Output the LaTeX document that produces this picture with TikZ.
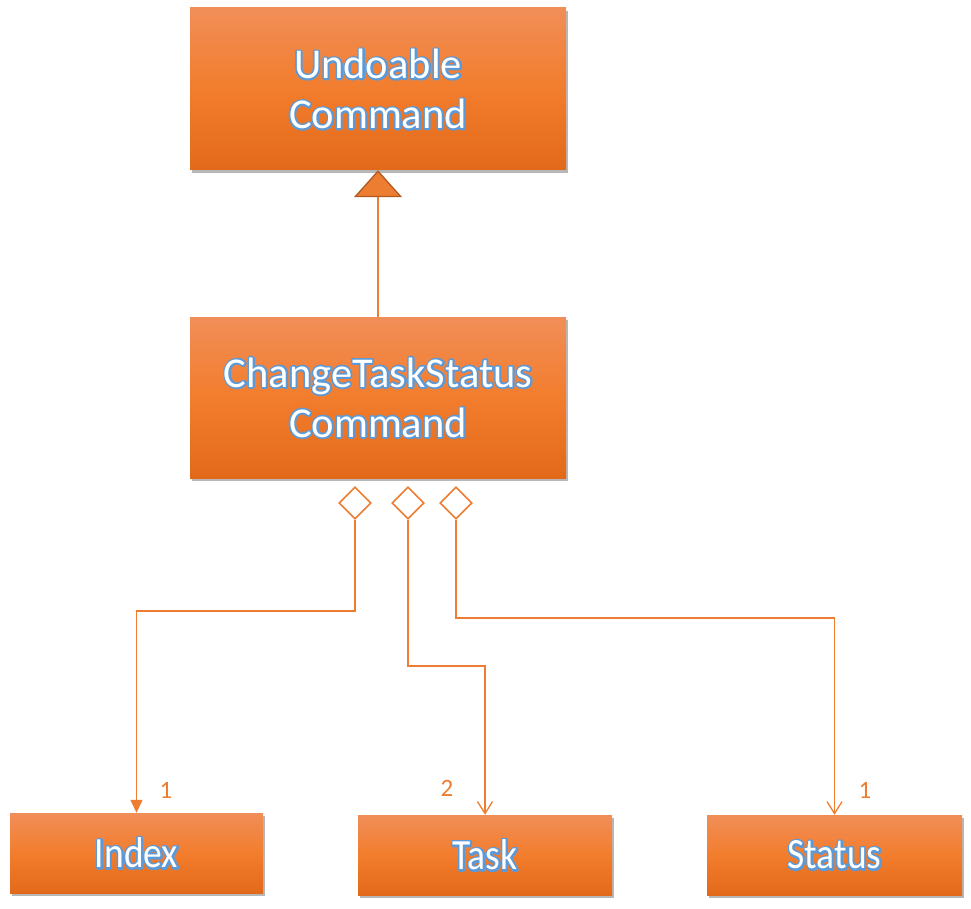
\documentclass[tikz,border=0pt]{standalone}
\usepackage{fontspec}
\usepackage{graphicx}
\setmainfont{Carlito}
\usetikzlibrary{arrows.meta,shapes.geometric,shadows}
\definecolor{boxtop}{HTML}{F18E58}
\definecolor{boxmid}{HTML}{F27D2D}
\definecolor{boxbot}{HTML}{E3691A}
\definecolor{lineor}{HTML}{ED7D31}
\definecolor{tridraw}{HTML}{B25A22}
\newcommand\glowtxt[1]{%
  \leavevmode
  \rlap{\color{white}\special{pdf:literal direct 1 Tr 3.6 w 1 j 0.36 0.60 0.84 RG}#1\special{pdf:literal direct 0 Tr 1 w}}%
  \textcolor{white}{#1}}
\newcommand\tallglow[1]{\scalebox{1}[1.15]{\glowtxt{#1}}}
\begin{document}
\begin{tikzpicture}[x=1pt,y=-1pt,
  classbox/.style={rectangle, inner sep=0pt, align=center,
    top color=boxtop, bottom color=boxbot, middle color=boxmid,
    drop shadow={shadow xshift=2pt, shadow yshift=-3pt, opacity=0.4, fill=black!70}},
  bigtext/.style={font=\fontsize{42.5}{50}\selectfont},
  smalltext/.style={font=\fontsize{37.5}{44}\selectfont},
  agg/.style={diamond, draw=lineor, fill=white, line width=1.6pt, inner sep=0pt,
    minimum width=32pt, minimum height=32pt},
  conn/.style={draw=lineor, line width=1.3pt},
  lbl/.style={text=lineor, font=\fontsize{25}{28}\selectfont, inner sep=0pt}]
\useasboundingbox (0,0) rectangle (971,909);

\node[classbox, bigtext, minimum width=376pt, minimum height=162pt] (uc) at (378,89)
  {\glowtxt{Undoable}\\\glowtxt{Command}};
\node[classbox, bigtext, minimum width=376pt, minimum height=161pt] (cts) at (378,397.5)
  {\glowtxt{ChangeTaskStatus}\\\glowtxt{Command}};
\node[classbox, smalltext, minimum width=253pt, minimum height=80pt] (index) at (136.5,853)
  {\tallglow{Index}};
\node[classbox, smalltext, minimum width=254pt, minimum height=80pt] (task) at (485,855)
  {\tallglow{Task}};
\node[classbox, smalltext, minimum width=255pt, minimum height=80pt] (status) at (834.5,855)
  {\tallglow{Status}};

\draw[lineor, line width=2.8pt,
  -{Triangle[width=48pt,length=27pt,color=tridraw,fill=lineor,line width=1.3pt]}]
  (cts.north) -- (uc.south);

\node[agg] (d1) at (355,503) {};
\node[agg] (d2) at (408,503) {};
\node[agg] (d3) at (456,503) {};

\draw[conn, -{Triangle[width=12pt,length=13pt]}] (d1.south) -- (355,611) -| (index.north);
\draw[conn, -{Straight Barb[width=15pt,length=12pt,line width=1.3pt]}] (d2.south) -- (408,666) -| (task.north);
\draw[conn, -{Straight Barb[width=15pt,length=12pt,line width=1.3pt]}] (d3.south) -- (456,618) -| (status.north);

\node[lbl] (m1) at (166,790) {1};
\node[lbl] (m2) at (447,788) {2};
\node[lbl] (m3) at (865,790) {1};
\end{tikzpicture}
\end{document}
